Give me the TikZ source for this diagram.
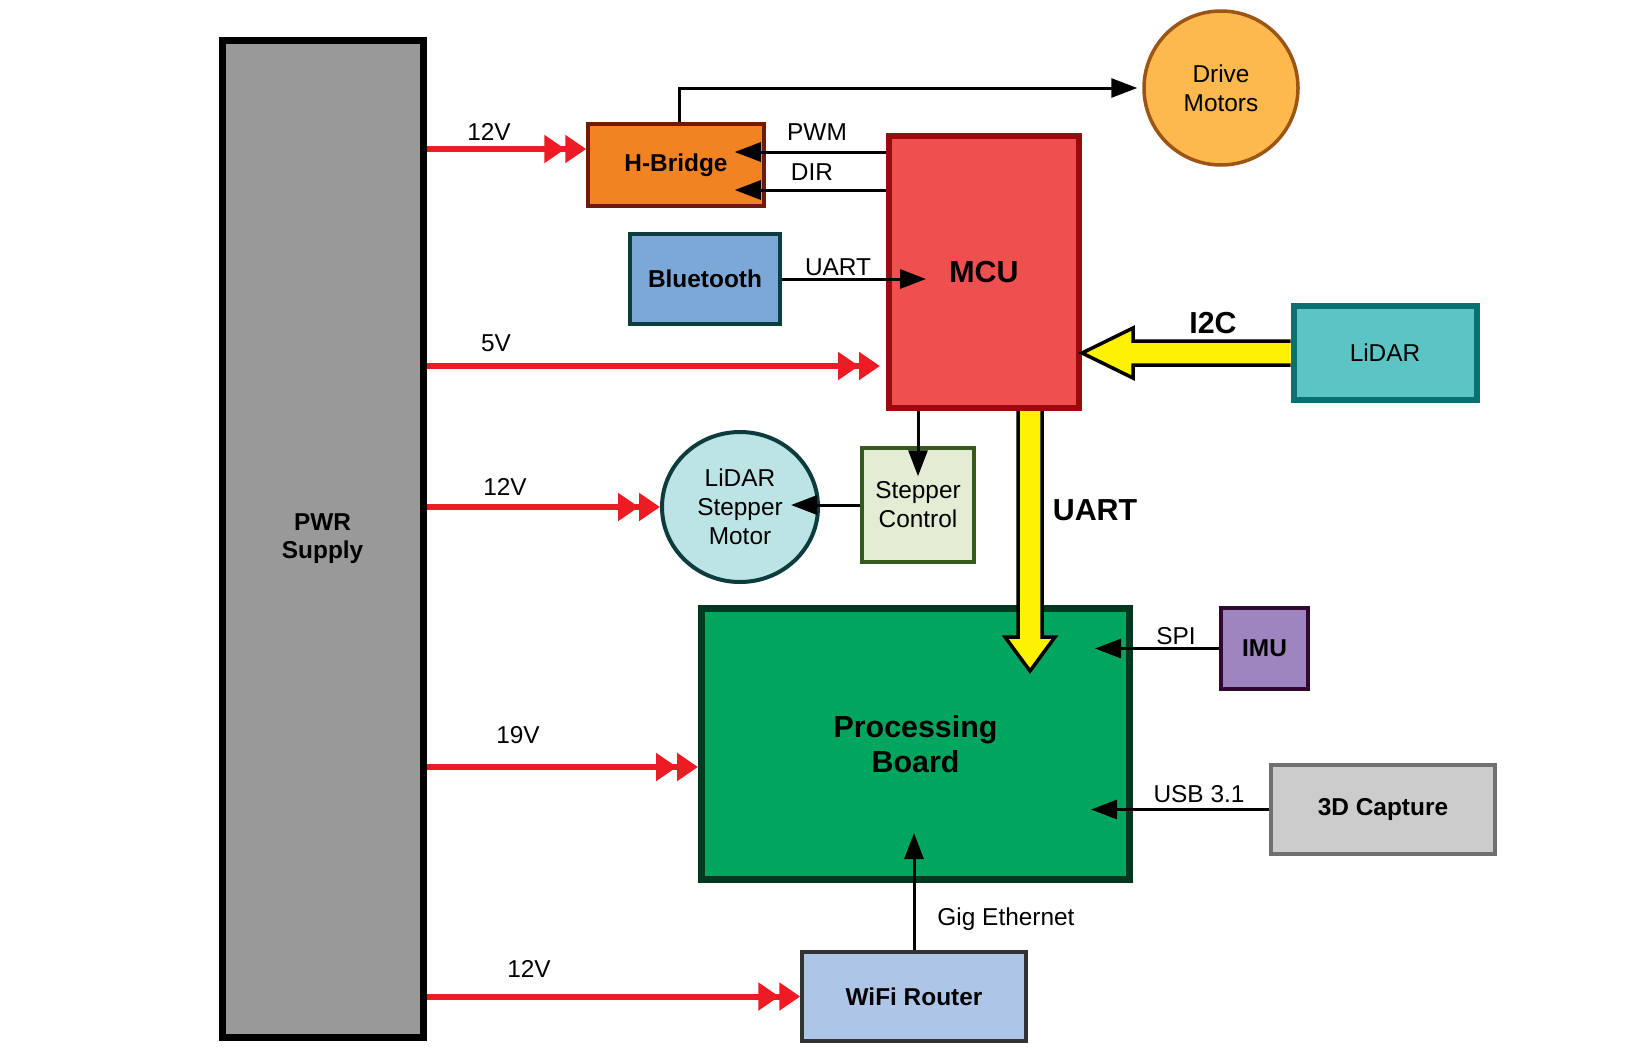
\documentclass[tikz,border=0pt]{standalone}
\usepackage{fontspec}
\setmainfont{Liberation Sans}
\usetikzlibrary{arrows.meta,shapes.geometric,calc}
\definecolor{redpw}{HTML}{ED1C24}
\definecolor{ylw}{HTML}{FFF200}
\definecolor{hbf}{HTML}{F28322}\definecolor{hbd}{HTML}{6E1B0E}
\definecolor{dmf}{HTML}{FDB94E}\definecolor{dmd}{HTML}{9C5515}
\definecolor{mcuf}{HTML}{F04F4F}\definecolor{mcud}{HTML}{9B0A0E}
\definecolor{btf}{HTML}{7CA8D8}\definecolor{btd}{HTML}{0D3D3D}
\definecolor{lidf}{HTML}{5BC4C4}\definecolor{lidd}{HTML}{0B7070}
\definecolor{lsmf}{HTML}{BDE4E4}\definecolor{lsmd}{HTML}{0C3C3C}
\definecolor{scf}{HTML}{E2EDD4}\definecolor{scd}{HTML}{365A1E}
\definecolor{pbf}{HTML}{00A65D}\definecolor{pbd}{HTML}{003920}
\definecolor{imuf}{HTML}{9F85BF}\definecolor{imud}{HTML}{31082E}
\definecolor{capf}{HTML}{CCCCCC}\definecolor{capd}{HTML}{707070}
\definecolor{wff}{HTML}{ADC6E8}\definecolor{wfd}{HTML}{333333}
\definecolor{pwrf}{HTML}{999999}
\tikzset{
  box/.style={draw,rectangle,inner sep=0pt,font=\fontsize{24.5}{29}\selectfont,align=center,line width=3.5bp},
  bbox/.style={box,font=\fontsize{24.5}{29}\selectfont\bfseries},
  conn/.style={draw,line width=3bp,-{Triangle[length=26bp,width=19bp]}},
  power/.style={draw=redpw,line width=6bp,-{Triangle[length=21bp,width=27bp]Triangle[length=21bp,width=27bp]},color=redpw},
  lbl/.style={inner sep=0pt,font=\fontsize{24.5}{29}\selectfont},
  blbl/.style={inner sep=0pt,font=\fontsize{30.5}{36}\selectfont\bfseries},
  yarrow/.style={draw=black,fill=ylw,line width=3.5bp,line join=miter}
}
\begin{document}
\begin{tikzpicture}[x=1bp,y=-1bp]
\useasboundingbox[fill=white] (0,0) rectangle (1632,1056);
% nodes
\node[bbox,fill=pwrf,line width=7bp,minimum width=201bp,minimum height=997bp] (pwr) at (322.6,538.6) {PWR\\Supply};
\node[bbox,fill=hbf,draw=hbd,minimum width=176bp,minimum height=82bp] (hb) at (676,165) {H-Bridge};
\node[box,circle,fill=dmf,draw=dmd,minimum size=154bp] (drive) at (1221,88) {Drive\\Motors};
\node[box,fill=mcuf,draw=mcud,line width=6bp,minimum width=190bp,minimum height=272bp,font=\fontsize{30.5}{36}\selectfont\bfseries] (mcu) at (984,272) {MCU};
\node[bbox,fill=btf,draw=btd,minimum width=150bp,minimum height=90bp] (bt) at (705,279) {Bluetooth};
\node[box,fill=lidf,draw=lidd,line width=6bp,minimum width=183bp,minimum height=94bp] (lidar) at (1385,353) {LiDAR};
\node[box,ellipse,fill=lsmf,draw=lsmd,line width=4bp,minimum width=156bp,minimum height=150bp] (lsm) at (740,507) {LiDAR\\Stepper\\Motor};
\node[box,fill=scf,draw=scd,minimum width=112bp,minimum height=114bp] (sc) at (918,505) {Stepper\\Control};
\node[box,fill=pbf,draw=pbd,line width=7bp,minimum width=428bp,minimum height=271bp,font=\fontsize{30.5}{35.5}\selectfont\bfseries] (pb) at (915.5,744) {Processing\\Board};
\node[bbox,fill=imuf,draw=imud,minimum width=87bp,minimum height=81bp] (imu) at (1264.5,648.5) {IMU};
\node[bbox,fill=capf,draw=capd,minimum width=224bp,minimum height=89bp] (cap) at (1383,809.5) {3D Capture};
\node[bbox,fill=wff,draw=wfd,minimum width=224bp,minimum height=89bp] (wifi) at (914,996.5) {WiFi Router};
% labels
\node[lbl] (l12a) at (489,132) {12V};
\node[lbl] (l5) at (496,343) {5V};
\node[lbl] (l12b) at (505,487) {12V};
\node[lbl] (l19) at (518,735) {19V};
\node[lbl] (l12c) at (529,969) {12V};
\node[lbl] (lpwm) at (817,132) {PWM};
\node[lbl] (ldir) at (812,172) {DIR};
\node[lbl] (luart) at (838,267) {UART};
\node[lbl] (lspi) at (1176,636) {SPI};
\node[lbl] (lusb) at (1199,794) {USB 3.1};
\node[lbl] (lgig) at (1006,919) {Gig Ethernet};
\node[blbl] (li2c) at (1213,323) {I2C};
\node[blbl] (luart2) at (1095,510) {UART};
% power arrows
\coordinate (p1) at ([yshift=16bp]hb.west);
\coordinate (p2) at ([xshift=-6bp,yshift=-94bp]mcu.west);
\coordinate (p3) at ([yshift=-23bp]pb.west);
\draw[power] (p1 -| pwr.east) -- (p1);
\draw[power] (p2 -| pwr.east) -- (p2);
\draw[power] (lsm.west -| pwr.east) -- (lsm.west);
\draw[power] (p3 -| pwr.east) -- (p3);
\draw[power] (wifi.west -| pwr.east) -- (wifi.west);
% signal connectors
\draw[conn] ([xshift=3bp]hb.north) |- ([xshift=-5bp]drive.west);
\coordinate (pw) at ([yshift=13bp]hb.east);
\coordinate (dr) at ([yshift=-25bp]hb.east);
\draw[conn] (pw -| mcu.west) -- ([xshift=-31bp]pw);
\draw[conn] (dr -| mcu.west) -- ([xshift=-31bp]dr);
\coordinate (mw) at ([xshift=40bp]mcu.west);
\draw[conn] (bt.east) -- (mw |- bt.east);
\draw[conn] (sc.north |- mcu.south) -- ([yshift=-30bp]sc.north);
\coordinate (lse) at ([xshift=-29bp]lsm.east);
\draw[conn] (sc.west) -- (sc.west -| lse);
\coordinate (pe1) at ([xshift=-38bp]pb.east);
\coordinate (pe2) at ([xshift=-42bp]pb.east);
\draw[conn] (imu.west) -- (pe1 |- imu.west);
\draw[conn] (cap.west) -- (pe2 |- cap.west);
\coordinate (ps) at ([yshift=50bp]pb.south);
\draw[conn] (wifi.north) -- (ps -| wifi.north);
% I2C block arrow
\coordinate (it) at (mcu.east |- lidar.west);
\draw[yarrow] ([yshift=12bp]lidar.west) -- ([xshift=51bp,yshift=12bp]it) -- ([xshift=51bp,yshift=25bp]it) -- (it) -- ([xshift=51bp,yshift=-25bp]it) -- ([xshift=51bp,yshift=-12bp]it) -- ([yshift=-12bp]lidar.west);
% UART block arrow
\coordinate (ua) at ([xshift=46bp]mcu.south);
\coordinate (pbn) at ([yshift=-66bp]pb.north);
\coordinate (ub) at (pbn -| ua);
\draw[yarrow] ([xshift=-12bp]ua) -- ([xshift=-12bp,yshift=34bp]ub) -- ([xshift=-25bp,yshift=34bp]ub) -- (ub) -- ([xshift=25bp,yshift=34bp]ub) -- ([xshift=12bp,yshift=34bp]ub) -- ([xshift=12bp]ua);
\end{tikzpicture}
\end{document}
